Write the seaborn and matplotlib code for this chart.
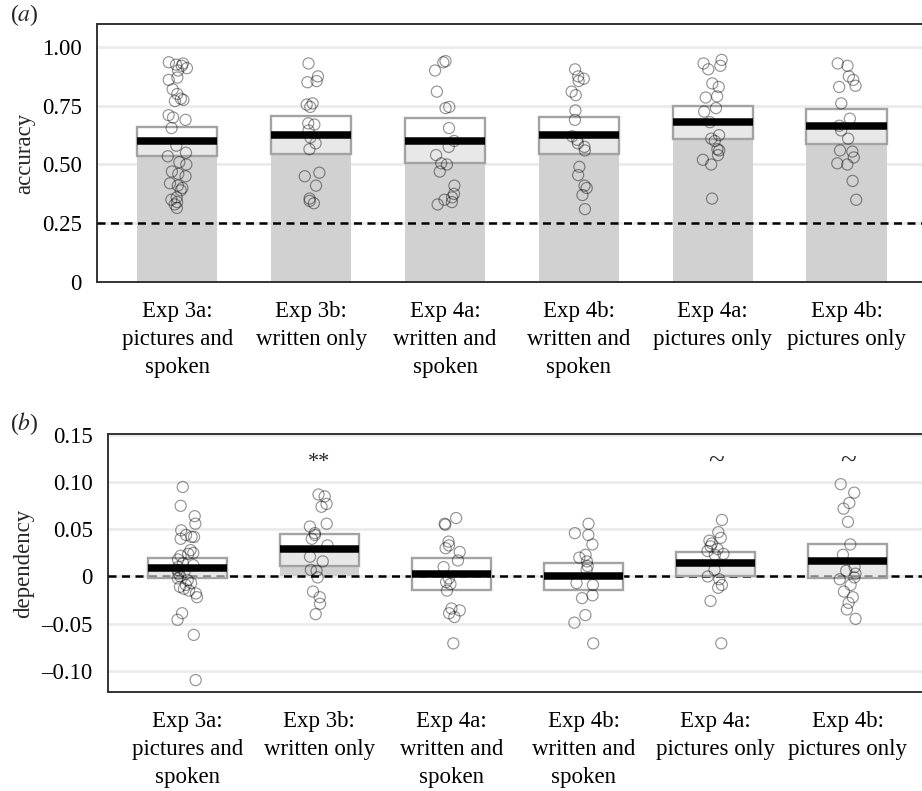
import numpy as np
import pandas as pd
import matplotlib
matplotlib.use("Agg")
import matplotlib.pyplot as plt
import seaborn as sns

# conditions (x axis, same for both panels)
conditions = [
    "Exp 3a:\npictures and\nspoken",
    "Exp 3b:\nwritten only",
    "Exp 4a:\nwritten and\nspoken",
    "Exp 4b:\nwritten and\nspoken",
    "Exp 4a:\npictures only",
    "Exp 4b:\npictures only",
]

# panel (a): per-participant accuracy
acc_3a = [0.935, 0.93, 0.925, 0.92, 0.91, 0.90, 0.87, 0.86, 0.82, 0.80, 0.78, 0.775,
          0.77, 0.71, 0.70, 0.69, 0.655, 0.58, 0.55, 0.535, 0.51, 0.50, 0.47, 0.46,
          0.45, 0.42, 0.41, 0.40, 0.39, 0.36, 0.35, 0.34, 0.33, 0.315]
acc_3b = [0.93, 0.875, 0.855, 0.85, 0.76, 0.755, 0.745, 0.675, 0.67, 0.645, 0.615,
          0.59, 0.565, 0.465, 0.45, 0.41, 0.355, 0.345, 0.335]
acc_4a_ws = [0.94, 0.935, 0.90, 0.81, 0.745, 0.74, 0.655, 0.60, 0.575, 0.54, 0.505,
             0.50, 0.47, 0.41, 0.375, 0.36, 0.35, 0.34, 0.33]
acc_4b_ws = [0.905, 0.875, 0.865, 0.855, 0.81, 0.795, 0.73, 0.69, 0.62, 0.605, 0.59,
             0.575, 0.56, 0.49, 0.455, 0.41, 0.40, 0.37, 0.31]
acc_4a_p = [0.945, 0.93, 0.92, 0.905, 0.845, 0.83, 0.79, 0.785, 0.74, 0.725, 0.68,
            0.625, 0.61, 0.60, 0.565, 0.56, 0.54, 0.52, 0.50, 0.355]
acc_4b_p = [0.93, 0.92, 0.875, 0.86, 0.835, 0.83, 0.76, 0.695, 0.665, 0.645, 0.61,
            0.56, 0.555, 0.53, 0.505, 0.50, 0.43, 0.35]

acc_mean = [0.599, 0.624, 0.599, 0.624, 0.679, 0.662]
acc_lo = [0.538, 0.545, 0.505, 0.543, 0.610, 0.587]
acc_hi = [0.661, 0.706, 0.698, 0.704, 0.750, 0.736]

# panel (b): per-participant dependency
dep_3a = [0.095, 0.075, 0.064, 0.056, 0.049, 0.044, 0.042, 0.042, 0.040, 0.028, 0.025,
          0.024, 0.022, 0.018, 0.014, 0.012, 0.010, 0.007, 0.005, 0.003, 0.0, -0.002,
          -0.004, -0.007, -0.009, -0.011, -0.013, -0.015, -0.018, -0.022, -0.039,
          -0.046, -0.062, -0.110]
dep_3b = [0.087, 0.085, 0.077, 0.074, 0.056, 0.053, 0.046, 0.044, 0.040, 0.033, 0.021,
          0.016, 0.007, 0.006, -0.001, -0.016, -0.022, -0.029, -0.040]
dep_4a_ws = [0.062, 0.056, 0.055, 0.037, 0.033, 0.030, 0.026, 0.017, 0.010, -0.002,
             -0.006, -0.008, -0.015, -0.034, -0.036, -0.039, -0.043, -0.071]
dep_4b_ws = [0.056, 0.046, 0.044, 0.034, 0.023, 0.020, 0.016, 0.011, 0.007, -0.007,
             -0.009, -0.020, -0.023, -0.041, -0.049, -0.071]
dep_4a_p = [0.060, 0.047, 0.041, 0.038, 0.035, 0.032, 0.029, 0.027, 0.024, 0.023,
            0.007, 0.0, -0.003, -0.009, -0.012, -0.026, -0.071]
dep_4b_p = [0.098, 0.089, 0.078, 0.072, 0.058, 0.034, 0.023, 0.010, 0.006, 0.003,
            -0.001, -0.003, -0.009, -0.016, -0.022, -0.028, -0.035, -0.045]

dep_mean = [0.0085, 0.0287, 0.003, 0.0, 0.0138, 0.016]
dep_lo = [-0.0014, 0.011, -0.014, -0.014, 0.0007, -0.002]
dep_hi = [0.020, 0.045, 0.0195, 0.014, 0.026, 0.035]
dep_sig = ["", "**", "", "", "~", "~"]

acc_ticks = [0, 0.25, 0.50, 0.75, 1.00]
acc_ticklabels = ["0", "0.25", "0.50", "0.75", "1.00"]
dep_ticks = [-0.10, -0.05, 0, 0.05, 0.10, 0.15]
dep_ticklabels = ["\u20130.10", "\u20130.05", "0", "0.05", "0.10", "0.15"]


def long_form(groups, name):
    rows = []
    for cond, vals in zip(conditions, groups):
        rows += [(cond, v) for v in vals]
    return pd.DataFrame(rows, columns=["condition", name])


acc_df = long_form([acc_3a, acc_3b, acc_4a_ws, acc_4b_ws, acc_4a_p, acc_4b_p], "accuracy")
dep_df = long_form([dep_3a, dep_3b, dep_4a_ws, dep_4b_ws, dep_4a_p, dep_4b_p], "dependency")

sns.set_style("white")
plt.rcParams["font.family"] = ["Liberation Serif", "DejaVu Serif"]
plt.rcParams["mathtext.fontset"] = "stix"

GRID = "#EBEBEB"
BAR = "#D1D1D1"
BOX_EDGE = "#A3A3A3"
FRAME = "#333333"
WIDTH = 0.6
FS = 16.5

fig = plt.figure(figsize=(9.22, 7.91), dpi=100)
ax_a = fig.add_axes([0.1052, 0.6435, 0.9002, 0.3262])
ax_b = fig.add_axes([0.1171, 0.1252, 0.8883, 0.3262])

np.random.seed(7)


def draw_panel(ax, df, value, means, lo, hi, chance, ylim, ticks, ticklabels):
    ax.set_axisbelow(True)
    ax.grid(True, color=GRID, linewidth=2)
    pos = np.arange(len(conditions))

    sns.barplot(x=conditions, y=means, order=conditions, color=BAR, saturation=1,
                width=WIDTH, errorbar=None, linewidth=0, ax=ax, zorder=2)
    ax.axhline(chance, color="black", linestyle=(0, (3.2, 2.2)), linewidth=1.8, zorder=3)

    # confidence box: half-transparent white over the bar
    ax.bar(pos, np.array(hi) - np.array(lo), bottom=lo, width=WIDTH,
           facecolor=(1, 1, 1, 0.5), edgecolor=BOX_EDGE, linewidth=1.7, zorder=4)
    ax.hlines(means, pos - WIDTH / 2, pos + WIDTH / 2, color="black",
              linewidth=5.4, capstyle="butt", zorder=5)

    sns.stripplot(data=df, x="condition", y=value, order=conditions, jitter=0.075,
                  size=8, facecolors="none", edgecolor=(0, 0, 0, 0.42),
                  linewidth=0.85, ax=ax, zorder=6)

    ax.set_xlim(-0.6, len(conditions) - 0.4)
    ax.set_ylim(*ylim)
    ax.set_yticks(ticks)
    ax.set_yticklabels(ticklabels)
    ax.set_xticks(pos)
    ax.set_xticklabels(conditions, linespacing=1.45)
    ax.set_xlabel("")
    ax.set_ylabel(value, fontsize=FS, labelpad=5)
    ax.tick_params(axis="both", labelsize=FS, colors="black", length=4.5,
                   width=1.4, direction="out", pad=6.5)
    ax.tick_params(axis="x", pad=9)
    ax.tick_params(axis="both", color=FRAME)
    for sp in ax.spines.values():
        sp.set_visible(True)
        sp.set_color(FRAME)
        sp.set_linewidth(1.4)


draw_panel(ax_a, acc_df, "accuracy", acc_mean, acc_lo, acc_hi, 0.25,
           (0, 1.098), acc_ticks, acc_ticklabels)
draw_panel(ax_b, dep_df, "dependency", dep_mean, dep_lo, dep_hi, 0.0,
           (-0.1226, 0.1513), dep_ticks, dep_ticklabels)

for i, s in enumerate(dep_sig):
    if s:
        ax_b.text(i, 0.121, s, ha="center", va="center",
                  fontsize=16 if s == "**" else 21, zorder=7)

fig.text(0.011, 0.981, "($a$)", fontsize=17, va="center", ha="left")
fig.text(0.011, 0.465, "($b$)", fontsize=17, va="center", ha="left")

fig.savefig("out.png", dpi=100)
